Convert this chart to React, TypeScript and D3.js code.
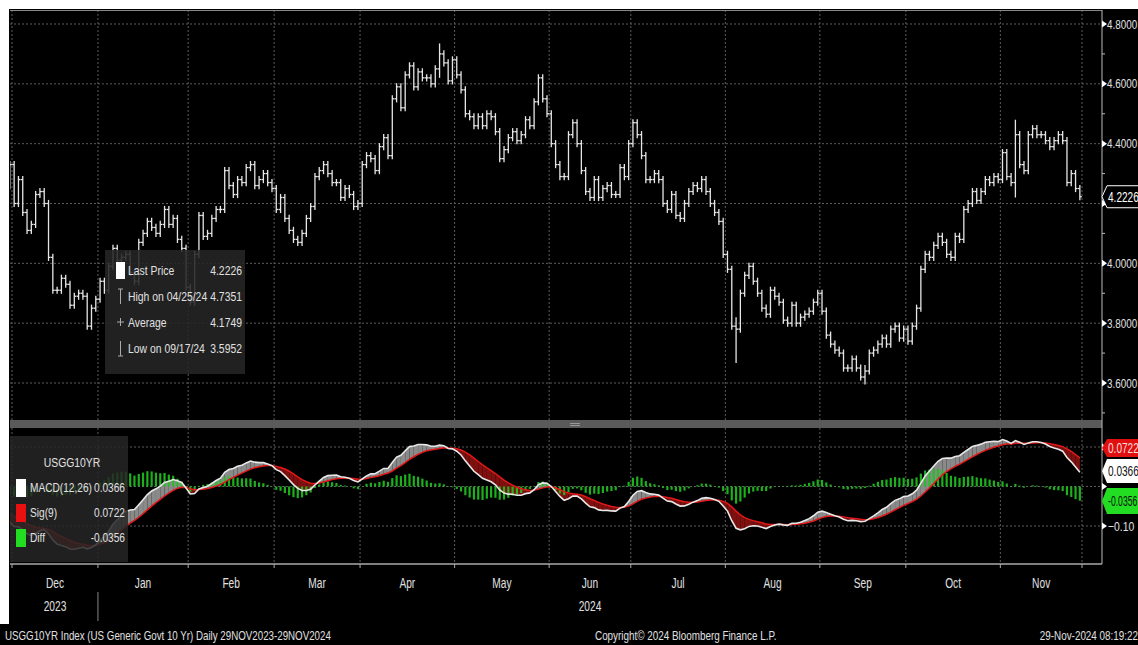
import { useEffect, useRef } from 'react';
import * as d3 from 'd3';

// Closes before the window, only used to warm up the MACD EMAs (Sep - 28 Nov 2023)
const priorCloses = [
  4.18, 4.27, 4.30, 4.26, 4.26, 4.29, 4.27, 4.25, 4.29, 4.33, 4.32, 4.37, 4.35, 4.49, 4.44, 4.54, 4.56, 4.61, 4.59, 4.57,
  4.68, 4.80, 4.73, 4.72, 4.78, 4.65, 4.56, 4.70, 4.63, 4.71, 4.83, 4.90, 4.99, 4.91, 4.84, 4.82, 4.95, 4.84, 4.83, 4.88, 4.88,
  4.73, 4.66, 4.57, 4.65, 4.57, 4.49, 4.63, 4.65, 4.64, 4.45, 4.54, 4.44, 4.44, 4.42, 4.41, 4.41, 4.47, 4.39, 4.33,
];

// Daily closes of USGG10YR, one array per month
const monthLabels = ['', 'Dec', 'Jan', 'Feb', 'Mar', 'Apr', 'May', 'Jun', 'Jul', 'Aug', 'Sep', 'Oct', 'Nov'];
const nov23 = [4.26, 4.33];
const dec23 = [4.20, 4.28, 4.17, 4.11, 4.13, 4.23, 4.24, 4.20, 4.02, 3.91, 3.91, 3.95, 3.93, 3.86, 3.89, 3.90, 3.89, 3.79, 3.85, 3.88];
const jan24 = [3.94, 3.91, 3.99, 4.05, 4.01, 4.02, 4.03, 3.97, 3.94, 4.07, 4.10, 4.14, 4.12, 4.10, 4.13, 4.18, 4.13, 4.15, 4.08, 4.05, 3.92];
const feb24 = [3.87, 4.03, 4.16, 4.09, 4.10, 4.15, 4.18, 4.18, 4.31, 4.26, 4.23, 4.28, 4.27, 4.32, 4.33, 4.26, 4.28, 4.30, 4.27, 4.25];
const mar24 = [4.18, 4.22, 4.15, 4.11, 4.08, 4.07, 4.10, 4.15, 4.19, 4.29, 4.31, 4.33, 4.30, 4.27, 4.27, 4.22, 4.25, 4.23, 4.19, 4.20];
const apr24 = [4.33, 4.36, 4.35, 4.31, 4.39, 4.42, 4.36, 4.55, 4.59, 4.52, 4.63, 4.66, 4.59, 4.64, 4.62, 4.62, 4.60, 4.65, 4.70, 4.67, 4.61, 4.68];
const may24 = [4.63, 4.58, 4.50, 4.49, 4.46, 4.49, 4.46, 4.50, 4.49, 4.44, 4.35, 4.38, 4.42, 4.44, 4.41, 4.43, 4.48, 4.46, 4.54, 4.62, 4.55, 4.50];
const jun24 = [4.40, 4.33, 4.29, 4.29, 4.43, 4.47, 4.40, 4.31, 4.24, 4.22, 4.28, 4.22, 4.25, 4.26, 4.23, 4.23, 4.32, 4.29, 4.40];
const jul24 = [4.47, 4.43, 4.36, 4.28, 4.28, 4.30, 4.28, 4.20, 4.18, 4.23, 4.16, 4.15, 4.20, 4.24, 4.26, 4.25, 4.28, 4.24, 4.20, 4.17, 4.14, 4.03];
const aug24 = [3.98, 3.79, 3.78, 3.90, 3.96, 3.99, 3.94, 3.90, 3.85, 3.83, 3.91, 3.89, 3.87, 3.81, 3.80, 3.86, 3.80, 3.82, 3.83, 3.84, 3.87, 3.90];
const sep24 = [3.84, 3.76, 3.73, 3.71, 3.70, 3.65, 3.65, 3.68, 3.65, 3.62, 3.64, 3.70, 3.71, 3.73, 3.75, 3.73, 3.78, 3.79, 3.75, 3.78];
const oct24 = [3.74, 3.79, 3.85, 3.98, 4.03, 4.02, 4.06, 4.09, 4.07, 4.03, 4.02, 4.09, 4.08, 4.18, 4.20, 4.24, 4.21, 4.24, 4.28, 4.27, 4.29, 4.28];
const nov24 = [4.37, 4.29, 4.27, 4.43, 4.33, 4.31, 4.43, 4.45, 4.43, 4.43, 4.41, 4.39, 4.41, 4.43, 4.41, 4.27, 4.30, 4.25, 4.2226];
const monthCloses = [nov23, dec23, jan24, feb24, mar24, apr24, may24, jun24, jul24, aug24, sep24, oct24, nov24];

// Intraday extremes visible on the chart: [month index, day index, high, low]
const wickOverrides: [number, number, number, number][] = [
  [5, 18, 4.7351, 4.62],
  [9, 2, 3.82, 3.667],
  [10, 10, 3.66, 3.5952],
  [12, 3, 4.48, 4.22],
];

const priceTicks = [3.6, 3.8, 4.0, 4.2, 4.4, 4.6, 4.8];
const macdTicks = [-0.1, 0, 0.1];
// axis labels hidden behind the value tags on the right
const coveredPriceTicks = [4.2];
const coveredMacdTicks = [0, 0.1];

const priceLegend = [
  { icon: 'box', label: 'Last Price', value: '4.2226' },
  { icon: 'high', label: 'High on 04/25/24', value: '4.7351' },
  { icon: 'avg', label: 'Average', value: '4.1749' },
  { icon: 'low', label: 'Low on 09/17/24', value: '3.5952' },
];
const macdLegend = [
  { color: '#ffffff', label: 'MACD(12,26)', value: '0.0366' },
  { color: '#e81010', label: 'Sig(9)', value: '0.0722' },
  { color: '#22dd22', label: 'Diff', value: '-0.0356' },
];

const FONT = "'Liberation Sans', Arial, sans-serif";
const TXT = '#e0e0e0';

function ema(values: number[], n: number) {
  const k = 2 / (n + 1);
  const out: number[] = [];
  values.forEach((v, i) => out.push(i === 0 ? v : v * k + out[i - 1] * (1 - k)));
  return out;
}

type G = d3.Selection<SVGGElement, unknown, null, undefined>;

// condensed text, Bloomberg-style narrow face
function txt(g: G, x: number, y: number, s: string, size = 13, anchor = 'start', fill = TXT, sx = 0.8) {
  return g.append('text')
    .attr('transform', `translate(${x},${y}) scale(${sx},1)`)
    .attr('font-family', FONT).attr('font-size', size)
    .attr('text-anchor', anchor).attr('fill', fill)
    .text(s);
}

export default function App() {
  const svgRef = useRef<SVGSVGElement>(null);

  useEffect(() => {
    if (!svgRef.current) return;
    const svg = d3.select(svgRef.current);
    svg.selectAll('*').remove();

    const closes = monthCloses.flat();
    const N = closes.length;
    const monthStart: number[] = [];
    let acc = 0;
    monthCloses.forEach(m => { monthStart.push(acc); acc += m.length; });
    monthStart.push(N);

    // MACD with warm-up history
    const all = priorCloses.concat(closes);
    const e12 = ema(all, 12);
    const e26 = ema(all, 26);
    const macdAll = all.map((_, i) => e12[i] - e26[i]);
    const sigAll = ema(macdAll, 9);
    const off = priorCloses.length;
    const macd = macdAll.slice(off);
    const sig = sigAll.slice(off);

    const L = 10, R = 1100, AX = 1102;
    const upTop = 10, upBot = 420, loTop = 428, loBot = 562, axisY = 564;

    const x = d3.scaleLinear().domain([0, N]).range([3.4, 1082]);
    const yP = d3.scaleLinear().domain([3.6, 4.8]).range([383, 24]);
    const yM = d3.scaleLinear().domain([-0.1, 0.1]).range([526, 447]);
    const cx = (i: number) => x(i + 0.5);

    // backgrounds
    svg.append('rect').attr('width', 1138).attr('height', 645).attr('fill', '#fff');
    svg.append('rect').attr('x', 9).attr('y', 9).attr('width', 1129).attr('height', 636).attr('fill', '#000');
    svg.append('rect').attr('x', 0).attr('y', 624).attr('width', 1138).attr('height', 21).attr('fill', '#000');

    const defs = svg.append('defs');
    defs.append('clipPath').attr('id', 'clipUp').append('rect')
      .attr('x', L).attr('y', upTop).attr('width', R - L).attr('height', upBot - upTop);
    defs.append('clipPath').attr('id', 'clipLo').append('rect')
      .attr('x', L).attr('y', loTop).attr('width', R - L).attr('height', loBot - loTop);

    const grid = svg.append('g').attr('stroke', '#5c5c5c').attr('stroke-width', 1).attr('stroke-dasharray', '2,2');
    priceTicks.forEach(t => grid.append('line').attr('x1', L).attr('x2', R).attr('y1', yP(t)).attr('y2', yP(t)));
    macdTicks.forEach(t => grid.append('line').attr('x1', L).attr('x2', R).attr('y1', yM(t)).attr('y2', yM(t)));
    monthStart.slice(1).forEach(s => {
      grid.append('line').attr('x1', x(s)).attr('x2', x(s)).attr('y1', upTop).attr('y2', upBot);
      grid.append('line').attr('x1', x(s)).attr('x2', x(s)).attr('y1', loTop).attr('y2', loBot);
    });

    // top border
    svg.append('line').attr('x1', L).attr('x2', AX).attr('y1', 10.5).attr('y2', 10.5).attr('stroke', '#888');

    // OHLC bars
    const up = svg.append('g').attr('clip-path', 'url(#clipUp)')
      .attr('stroke', '#e6e6e6').attr('stroke-width', 1.3);
    closes.forEach((c, i) => {
      const o = i > 0 ? closes[i - 1] : priorCloses[priorCloses.length - 1];
      let hi = Math.max(o, c) + 0.012;
      let lo = Math.min(o, c) - 0.012;
      wickOverrides.forEach(([m, d, h, l]) => {
        if (monthStart[m] + d === i) { hi = h; lo = l; }
      });
      const px = cx(i);
      up.append('line').attr('x1', px).attr('x2', px).attr('y1', yP(hi)).attr('y2', yP(lo));
      up.append('line').attr('x1', px - 2).attr('x2', px).attr('y1', yP(o)).attr('y2', yP(o));
      up.append('line').attr('x1', px).attr('x2', px + 2).attr('y1', yP(c)).attr('y2', yP(c));
    });

    // price legend
    const lg = svg.append('g');
    lg.append('rect').attr('x', 105).attr('y', 250).attr('width', 140).attr('height', 124)
      .attr('fill', '#262626').attr('opacity', 0.88);
    priceLegend.forEach((r, k) => {
      const yy = 274 + k * 26;
      if (r.icon === 'box') {
        lg.append('rect').attr('x', 116).attr('y', yy - 12).attr('width', 9).attr('height', 17).attr('fill', '#fff');
      } else if (r.icon === 'avg') {
        lg.append('path').attr('d', `M117,${yy - 4}h7M120.5,${yy - 8}v8`).attr('stroke', '#aaa');
      } else {
        const top = r.icon === 'high';
        lg.append('path')
          .attr('d', `M120.5,${yy - 11}v15M118,${top ? yy - 11 : yy + 4}h5`)
          .attr('stroke', '#aaa');
      }
      txt(lg, 128, yy + 1, r.label, 13, 'start', TXT, 0.8);
      txt(lg, 242, yy + 1, r.value, 13, 'end', TXT, 0.8);
    });

    // separator
    svg.append('rect').attr('x', L).attr('y', upBot).attr('width', AX - L).attr('height', 8).attr('fill', '#5a5a5a');
    svg.append('path').attr('d', 'M570,423.5h10M570,425.5h10').attr('stroke', '#999');

    // MACD panel
    const lo = svg.append('g').attr('clip-path', 'url(#clipLo)');
    for (let i = 0; i < N - 1; i++) {
      const x0 = cx(i), x1 = cx(i + 1);
      const d0 = macd[i] - sig[i], d1 = macd[i + 1] - sig[i + 1];
      const col = (d: number) => (d >= 0 ? '#8a8a8a' : '#7e1010');
      if (d0 * d1 >= 0) {
        lo.append('path')
          .attr('d', `M${x0},${yM(macd[i])}L${x1},${yM(macd[i + 1])}L${x1},${yM(sig[i + 1])}L${x0},${yM(sig[i])}Z`)
          .attr('fill', col(d0 + d1));
      } else {
        const t = d0 / (d0 - d1);
        const xc = x0 + t * (x1 - x0);
        const yc = yM(macd[i] + t * (macd[i + 1] - macd[i]));
        lo.append('path').attr('d', `M${x0},${yM(macd[i])}L${xc},${yc}L${x0},${yM(sig[i])}Z`).attr('fill', col(d0));
        lo.append('path').attr('d', `M${xc},${yc}L${x1},${yM(macd[i + 1])}L${x1},${yM(sig[i + 1])}Z`).attr('fill', col(d1));
      }
    }
    macd.forEach((m, i) => {
      const d = m - sig[i];
      lo.append('rect')
        .attr('x', cx(i) - 1.1).attr('width', 2.2)
        .attr('y', Math.min(yM(0), yM(d))).attr('height', Math.abs(yM(d) - yM(0)))
        .attr('fill', '#1fc41f').attr('opacity', 0.9);
    });
    const line = d3.line<number>().x((_, i) => cx(i)).y(v => yM(v));
    lo.append('path').attr('d', line(sig)).attr('fill', 'none').attr('stroke', '#e01818').attr('stroke-width', 1.5);
    lo.append('path').attr('d', line(macd)).attr('fill', 'none').attr('stroke', '#e8e8e8').attr('stroke-width', 1.6);

    // MACD legend
    const ml = svg.append('g');
    ml.append('rect').attr('x', L).attr('y', 436).attr('width', 118).attr('height', 126)
      .attr('fill', '#262626').attr('opacity', 0.85);
    txt(ml, 72, 467, 'USGG10YR', 13, 'middle', TXT, 0.8);
    macdLegend.forEach((r, k) => {
      const yy = 492 + k * 25;
      ml.append('rect').attr('x', 16).attr('y', yy - 13).attr('width', 10).attr('height', 18).attr('fill', r.color);
      txt(ml, 30, yy, r.label, 13, 'start', TXT, 0.78);
      txt(ml, 125, yy, r.value, 13, 'end', TXT, 0.78);
    });

    // right axis
    const ra = svg.append('g');
    ra.append('line').attr('x1', AX).attr('x2', AX).attr('y1', upTop).attr('y2', loBot + 2).attr('stroke', '#bbb');
    priceTicks.forEach(t => {
      const yy = yP(t);
      ra.append('path').attr('d', `M${AX},${yy - 3.5}L${AX + 5},${yy}L${AX},${yy + 3.5}Z`).attr('fill', '#fff');
      if (!coveredPriceTicks.includes(t)) txt(ra, AX + 5, yy + 4.5, d3.format('.4f')(t), 13, 'start', TXT, 0.76);
      if (t > 3.6) ra.append('line').attr('x1', AX).attr('x2', AX + 3)
        .attr('y1', yP(t - 0.1)).attr('y2', yP(t - 0.1)).attr('stroke', '#bbb');
    });
    ra.append('line').attr('x1', AX).attr('x2', AX + 3).attr('y1', yP(3.5)).attr('y2', yP(3.5)).attr('stroke', '#bbb');
    macdTicks.forEach(t => {
      const yy = yM(t);
      ra.append('path').attr('d', `M${AX},${yy - 3.5}L${AX + 5},${yy}L${AX},${yy + 3.5}Z`).attr('fill', '#fff');
      if (!coveredMacdTicks.includes(t)) txt(ra, AX + 6, yy + 4.5, d3.format('.2f')(t), 13, 'start', TXT, 0.8);
    });

    const tag = (cy: number, h: number, fill: string, stroke: string, color: string, label: string, sx = 0.72) => {
      ra.append('path')
        .attr('d', `M${AX},${cy}L${AX + 5},${cy - h / 2}H1140V${cy + h / 2}H${AX + 5}Z`)
        .attr('fill', fill).attr('stroke', stroke);
      txt(ra, AX + 6, cy + 5, label, 14, 'start', color, sx);
    };
    tag(yP(closes[N - 1]), 22, '#000', '#fff', '#fff', '4.2226');
    tag(448, 18, '#e01010', 'none', '#ffdddd', '0.0722');
    tag(471, 24, '#ffffff', 'none', '#111', '0.0366');
    tag(501, 26, '#22dd22', 'none', '#111', '-0.0356', 0.62);

    // bottom axis
    const bx = svg.append('g');
    bx.append('line').attr('x1', L).attr('x2', AX).attr('y1', axisY).attr('y2', axisY).attr('stroke', '#aaa').attr('stroke-width', 1.5);
    monthStart.slice(1).forEach(s => {
      bx.append('line').attr('x1', x(s)).attr('x2', x(s)).attr('y1', axisY).attr('y2', axisY + 4).attr('stroke', '#aaa');
    });
    monthLabels.forEach((m, k) => {
      if (!m) return;
      txt(bx, (x(monthStart[k]) + x(monthStart[k + 1])) / 2, 588, m, 15, 'middle', TXT, 0.68);
    });
    txt(bx, (x(monthStart[1]) + x(monthStart[2])) / 2, 611, '2023', 15, 'middle', TXT, 0.68);
    txt(bx, (x(monthStart[2]) + x(N)) / 2, 611, '2024', 15, 'middle', TXT, 0.68);
    bx.append('line').attr('x1', x(monthStart[2])).attr('x2', x(monthStart[2])).attr('y1', 592).attr('y2', 621)
      .attr('stroke', '#888');

    // footer
    const ft = svg.append('g');
    txt(ft, 5, 640, 'USGG10YR Index (US Generic Govt 10 Yr)  Daily 29NOV2023-29NOV2024', 13, 'start', TXT, 0.75);
    txt(ft, 595, 640, 'Copyright© 2024 Bloomberg Finance L.P.', 13, 'start', TXT, 0.76);
    txt(ft, 1138, 640, '29-Nov-2024 08:19:22', 13, 'end', TXT, 0.76);
  }, []);

  return (
    <div style={{ position: 'fixed', left: 0, top: 0 }}>
      <svg ref={svgRef} width={1138} height={645} style={{ display: 'block' }} />
    </div>
  );
}
